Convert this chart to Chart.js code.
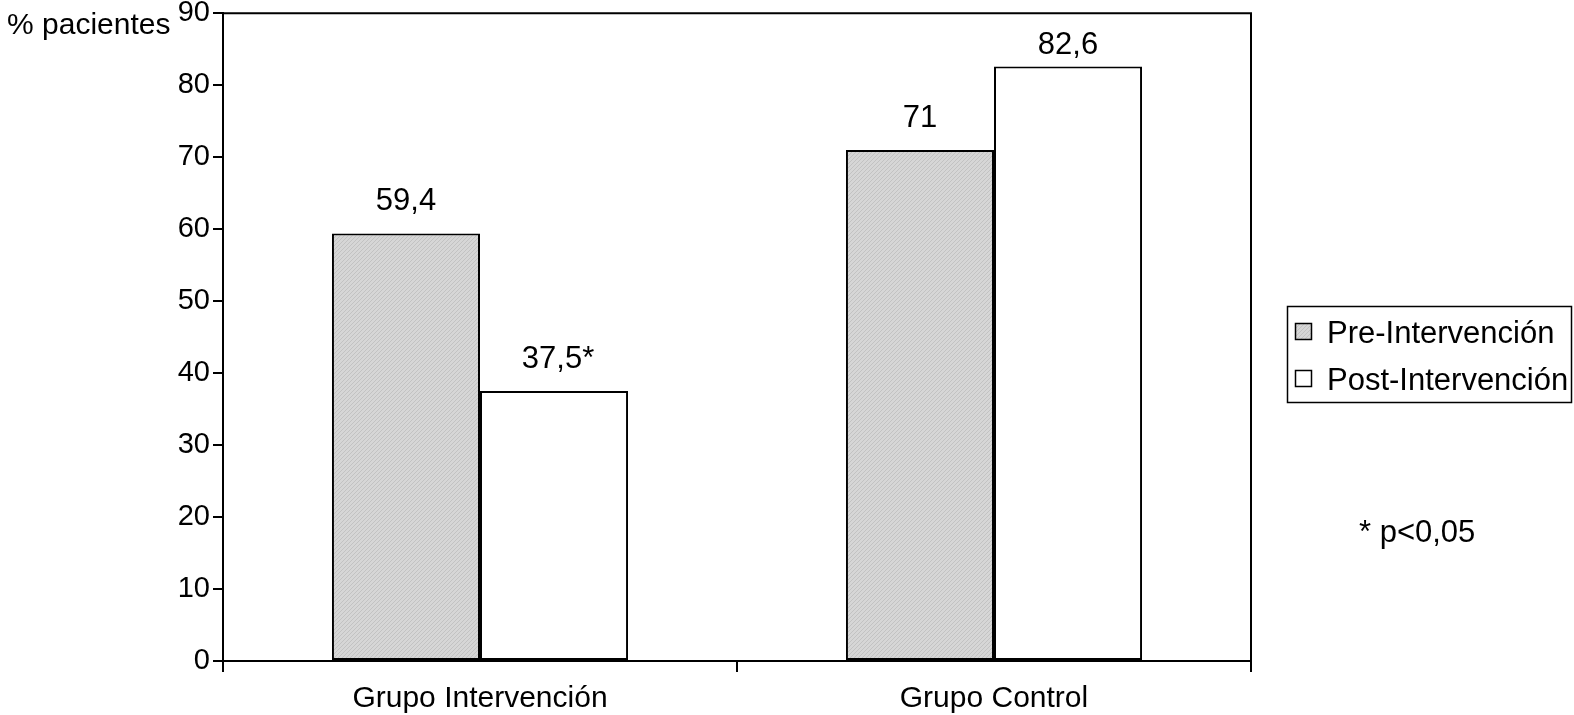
<!DOCTYPE html>
<html>
<head>
<meta charset="utf-8">
<script src="https://cdn.jsdelivr.net/npm/chart.js@4.4.1/dist/chart.umd.min.js"></script>
<style>
  html, body { margin: 0; padding: 0; background: #ffffff; }
  #wrap { width: 1574px; height: 715px; position: relative; }
</style>
</head>
<body>
<div id="wrap"><canvas id="c" width="1574" height="715"></canvas></div>
<script>
// Categories, series and axis settings
const categories = ['Grupo Intervención', 'Grupo Control'];
const seriesNames = ['Pre-Intervención', 'Post-Intervención'];
const preValues = [59.4, 71];
const postValues = [37.5, 82.6];
const postMarks = ['*', ''];
const preMarks = ['', ''];
const yTicks = [0, 10, 20, 30, 40, 50, 60, 70, 80, 90];
const axisTitle = '% pacientes';
const footnote = '* p<0,05';

const FONT = "'Liberation Sans', Arial, Helvetica, sans-serif";

// Fine diagonal hatch used for the grey bars
function makeHatch() {
  const p = document.createElement('canvas');
  p.width = 4; p.height = 4;
  const g = p.getContext('2d');
  g.fillStyle = '#d6d6d6';
  g.fillRect(0, 0, 4, 4);
  g.fillStyle = '#c2c2c2';
  for (let i = 0; i < 4; i++) g.fillRect(i, 3 - i, 1, 1);
  return g.createPattern(p, 'repeat');
}
const hatch = makeHatch();

function fmt(v) { return String(v).replace('.', ','); }

// Frame, value labels, title, legend and footnote
const decorations = {
  id: 'decorations',
  afterDraw(chart) {
    const { ctx, chartArea } = chart;
    ctx.save();
    // top and right edges of the plot frame
    ctx.strokeStyle = '#000';
    ctx.lineWidth = 2;
    ctx.beginPath();
    ctx.moveTo(chartArea.left, chartArea.top);
    ctx.lineTo(chartArea.right, chartArea.top);
    ctx.lineTo(chartArea.right, chartArea.bottom);
    ctx.stroke();

    // value labels, kept clear of the top frame
    ctx.fillStyle = '#000';
    ctx.font = '31px ' + FONT;
    ctx.textAlign = 'center';
    ctx.textBaseline = 'alphabetic';
    const marks = [preMarks, postMarks];
    chart.data.datasets.forEach((ds, di) => {
      chart.getDatasetMeta(di).data.forEach((bar, i) => {
        const y = Math.max(bar.y - 23, chartArea.top + 41);
        ctx.fillText(fmt(ds.data[i]) + marks[di][i], bar.x + (marks[di][i] ? 4 : 0), y);
      });
    });

    // axis title
    ctx.font = '30px ' + FONT;
    ctx.textAlign = 'left';
    ctx.fillText(axisTitle, 7, 34);

    // legend
    ctx.font = '31px ' + FONT;
    const lx = 1287, ly = 306, lw = 284, lh = 96;
    ctx.lineWidth = 1.5;
    ctx.strokeRect(lx + 0.5, ly + 0.5, lw, lh);
    const rows = [343, 390];
    const fills = [hatch, '#ffffff'];
    seriesNames.forEach((name, i) => {
      ctx.fillStyle = fills[i];
      ctx.fillRect(1295, rows[i] - 20, 17, 17);
      ctx.strokeStyle = '#000';
      ctx.lineWidth = 1.5;
      ctx.strokeRect(1295.5, rows[i] - 19.5, 16, 16);
      ctx.fillStyle = '#000';
      ctx.fillText(name, 1327, rows[i]);
    });

    // footnote
    ctx.fillText(footnote, 1359, 542);
    ctx.restore();
  }
};

new Chart(document.getElementById('c'), {
  type: 'bar',
  data: {
    labels: categories,
    datasets: [
      {
        label: seriesNames[0],
        data: preValues,
        backgroundColor: hatch,
        borderColor: '#000',
        borderWidth: 2,
        borderSkipped: false,
        categoryPercentage: 0.576,
        barPercentage: 1
      },
      {
        label: seriesNames[1],
        data: postValues,
        backgroundColor: '#ffffff',
        borderColor: '#000',
        borderWidth: 2,
        borderSkipped: false,
        categoryPercentage: 0.576,
        barPercentage: 1
      }
    ]
  },
  options: {
    responsive: false,
    animation: false,
    devicePixelRatio: 1,
    layout: { padding: { left: 0, right: 323, top: 10, bottom: 0 } },
    plugins: {
      legend: { display: false },
      tooltip: { enabled: false }
    },
    scales: {
      x: {
        offset: true,
        grid: {
          offset: true,
          drawOnChartArea: false,
          drawTicks: true,
          tickLength: 11,
          color: '#000',
          lineWidth: 2
        },
        border: { display: true, color: '#000', width: 2 },
        ticks: {
          color: '#000',
          font: { family: FONT, size: 30 },
          padding: 9
        },
        afterFit(scale) { scale.height = 54; }
      },
      y: {
        min: 0,
        max: 90,
        afterBuildTicks(scale) { scale.ticks = yTicks.map(v => ({ value: v })); },
        grid: {
          drawOnChartArea: false,
          drawTicks: true,
          tickLength: 10,
          color: '#000',
          lineWidth: 2
        },
        border: { display: true, color: '#000', width: 2 },
        ticks: {
          color: '#000',
          font: { family: FONT, size: 29, lineHeight: 0.7 },
          padding: 3
        },
        afterFit(scale) { scale.width = 223; }
      }
    }
  },
  plugins: [decorations]
});
</script>
</body>
</html>
